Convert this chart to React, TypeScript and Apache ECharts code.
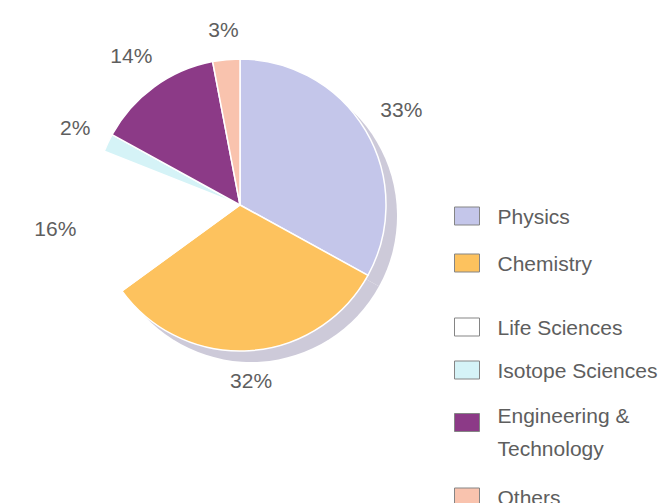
import React, { useEffect, useRef } from "react";
import * as echarts from "echarts";

const categories = ["Physics", "Chemistry", "Life Sciences", "Isotope Sciences", "Engineering & Technology", "Others"];
const legendLabels = ["Physics", "Chemistry", "Life Sciences", "Isotope Sciences", "{s| }\n{t|Engineering &}\n{t|Technology}", "Others"];
const values = [33, 32, 16, 2, 14, 3];
const colors = ["#c4c6ea", "#fdc25e", "#ffffff", "#d5f3f7", "#8c3a87", "#f9c3ae"];
const hasShadow = [true, true, false, false, false, false];

const FONT = "Liberation Sans";
const TEXT = "#5e5e5e";

export default function App() {
  const ref = useRef<HTMLDivElement>(null);
  useEffect(() => {
    if (!ref.current) return;
    const chart = echarts.init(ref.current, null, { renderer: "svg" });
    const center = [240, 205];
    const radius = 146;

    const legendTops = [199, 246, 310, 353, 375, 480];
    const legends = categories.map((name, i) => ({
      left: 449,
      top: legendTops[i],
      orient: "vertical",
      icon: "rect",
      itemWidth: 25,
      itemHeight: 18,
      selectedMode: false,
      data: [name],
      formatter: () => legendLabels[i],
      itemStyle: { borderColor: "#858585", borderWidth: 1 },
      textStyle: {
        fontFamily: FONT,
        fontSize: 21,
        color: TEXT,
        lineHeight: 24,
        padding: [0, 0, 0, 13],
        rich: {
          s: { fontSize: 10, lineHeight: 19, fontFamily: FONT, color: TEXT },
          t: { fontSize: 21, lineHeight: 33, fontFamily: FONT, color: TEXT },
        },
      },
    }));

    chart.setOption({
      animation: false,
      backgroundColor: "#ffffff",
      legend: legends,
      series: [
        {
          name: "Share",
          type: "pie",
          z: 3,
          center,
          radius,
          startAngle: 90,
          avoidLabelOverlap: false,
          data: categories.map((name, i) => ({
            name,
            value: values[i],
            itemStyle: { color: colors[i] },
          })),
          itemStyle: { borderColor: "#ffffff", borderWidth: 1.5 },
          label: {
            show: true,
            position: "outside",
            formatter: "{c}%",
            fontFamily: FONT,
            fontSize: 21,
            color: TEXT,
          },
          labelLine: { show: true, length: 10, length2: 0, lineStyle: { opacity: 0 } },
          labelLayout: (p: any) => {
            const pts = p.labelLinePoints;
            if (!pts || pts.length < 2) return { align: "center", verticalAlign: "middle" };
            const a = pts[0];
            const b = pts[1];
            let dx = b[0] - a[0];
            let dy = b[1] - a[1];
            const len = Math.hypot(dx, dy) || 1;
            dx /= len;
            dy /= len;
            const ext = (Math.abs(dx) * p.labelRect.width) / 2 + (Math.abs(dy) * p.labelRect.height) / 2;
            const d = 18 + ext;
            return { x: a[0] + dx * d, y: a[1] + dy * d, align: "center", verticalAlign: "middle" };
          },
          emphasis: { disabled: true },
        },
        {
          name: "Shadow",
          type: "pie",
          z: 1,
          silent: true,
          legendHoverLink: false,
          center: [center[0] + 11, center[1] + 11],
          radius,
          startAngle: 90,
          data: categories.map((name, i) => ({
            name,
            value: values[i],
            itemStyle: { color: hasShadow[i] ? "#cdcad9" : "rgba(0,0,0,0)" },
          })),
          itemStyle: { borderWidth: 0 },
          label: { show: false },
          labelLine: { show: false },
          emphasis: { disabled: true },
          tooltip: { show: false },
        },
      ],
    });
    return () => chart.dispose();
  }, []);
  return (
    <div
      ref={ref}
      style={{ position: "fixed", left: 0, top: 0, width: 669, height: 503 }}
    />
  );
}
